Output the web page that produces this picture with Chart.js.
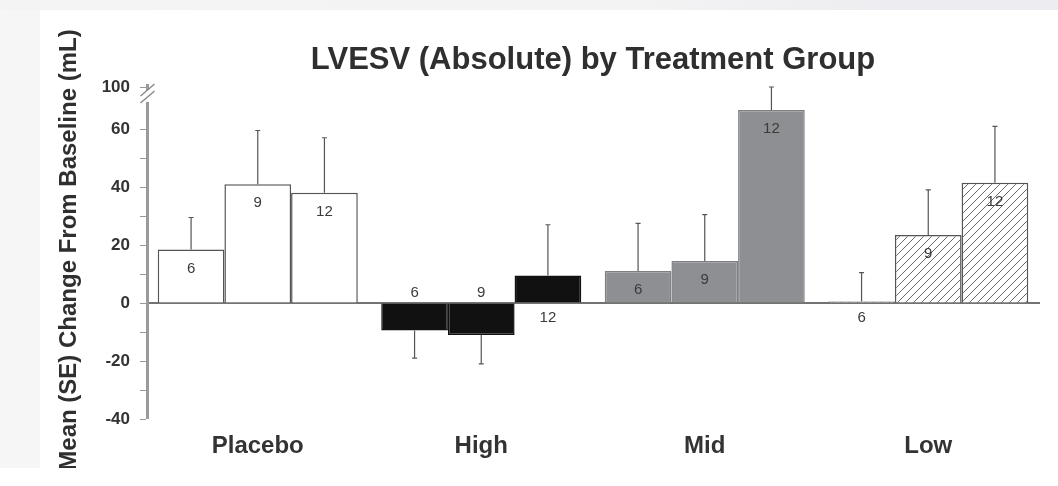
<!DOCTYPE html>
<html><head><meta charset="utf-8">
<script src="https://cdn.jsdelivr.net/npm/chart.js@4/dist/chart.umd.min.js"></script>
<style>html,body{margin:0;padding:0;background:#fff;overflow:hidden}#wrap{width:1058px;height:486px;position:relative}</style>
</head><body><div id="wrap"><canvas id="c" width="1058" height="486"></canvas></div>
<script>
// ---- data ----
const TITLE = 'LVESV (Absolute) by Treatment Group';
const Y_TITLE = 'Mean (SE) Change From Baseline (mL)';
const CATEGORIES = ['Placebo', 'High', 'Mid', 'Low'];
const TIMEPOINTS = ['6', '9', '12'];
const MEAN_6  = [18.5, -9.5, 11, 0.5];
const MEAN_9  = [41, -11, 14.5, 23.5];
const MEAN_12 = [38, 9.5, 78, 41.5];
const SE_6  = [11, 9.5, 16.5, 10];
const SE_9  = [18.5, 10, 16, 15.5];
const SE_12 = [19, 17.5, 22, 21];
const Y_TICKS = [-40, -30, -20, -10, 0, 10, 20, 30, 40, 50, 60, 100];
const Y_LABELED = [-40, -20, 0, 20, 40, 60, 100];
const BREAK_AT = 60;

// ---- style ----
const BREAK_RATIO = 0.3625;
const FONT = "'Liberation Sans', Arial, sans-serif";
const TEXT = '#333';

function hatch() {
  const s = 8, c = document.createElement('canvas');
  c.width = s; c.height = s;
  const g = c.getContext('2d');
  g.fillStyle = '#fff'; g.fillRect(0, 0, s, s);
  g.strokeStyle = '#6a6a6a'; g.lineWidth = 1;
  g.beginPath();
  g.moveTo(-1, s + 1); g.lineTo(s + 1, -1);
  g.moveTo(-1, 1); g.lineTo(1, -1);
  g.moveTo(s - 1, s + 1); g.lineTo(s + 1, s - 1);
  g.stroke();
  return document.getElementById('c').getContext('2d').createPattern(c, 'repeat');
}
const FILLS = ['#ffffff', '#111111', '#8e8f92', hatch()];
const BORDERS = ['#555555', '#111111', '#7e7f82', '#555555'];

// ---- broken linear scale ----
class BrokenLinearScale extends Chart.LinearScale {
  squash(v) { return v > BREAK_AT ? BREAK_AT + (v - BREAK_AT) * BREAK_RATIO : v; }
  unsquash(v) { return v > BREAK_AT ? BREAK_AT + (v - BREAK_AT) / BREAK_RATIO : v; }
  configure() {
    super.configure();
    this._endValue = this.squash(this.max);
    this._valueRange = this._endValue - this._startValue;
  }
  getPixelForValue(value) {
    if (value === null || value === undefined || isNaN(value)) return NaN;
    return this.getPixelForDecimal((this.squash(value) - this._startValue) / this._valueRange);
  }
  getValueForPixel(pixel) {
    return this.unsquash(this._startValue + this.getDecimalForPixel(pixel) * this._valueRange);
  }
}
BrokenLinearScale.id = 'brokenLinear';
BrokenLinearScale.defaults = Object.assign({}, Chart.LinearScale.defaults);
Chart.register(BrokenLinearScale);

const MEANS = [MEAN_6, MEAN_9, MEAN_12];
const SES = [SE_6, SE_9, SE_12];

const decor = {
  id: 'decor',
  beforeDraw(chart) {
    const ctx = chart.ctx;
    ctx.save();
    ctx.fillStyle = '#fff'; ctx.fillRect(0, 0, chart.width, chart.height);
    const gr = ctx.createLinearGradient(0, 0, chart.width, 0);
    gr.addColorStop(0, '#f4f4f4'); gr.addColorStop(0.6, '#f3f3f4'); gr.addColorStop(0.85, '#ededf1'); gr.addColorStop(1, '#ededf1');
    ctx.fillStyle = gr; ctx.fillRect(0, 0, chart.width, 10);
    ctx.fillStyle = '#f6f6f6'; ctx.fillRect(0, 10, 40, 458);
    ctx.restore();
  },
  beforeDatasetsDraw(chart) {
    const ctx = chart.ctx, a = chart.chartArea, y = chart.scales.y;
    const p0 = y.getPixelForValue(0);
    ctx.save();
    ctx.strokeStyle = '#444'; ctx.lineWidth = 1.5;
    ctx.beginPath(); ctx.moveTo(a.left, p0); ctx.lineTo(a.right, p0); ctx.stroke();
    ctx.restore();
  },
  afterDatasetsDraw(chart) {
    const ctx = chart.ctx, a = chart.chartArea, y = chart.scales.y;
    const p0 = y.getPixelForValue(0);
    ctx.save();
    // error bars
    ctx.strokeStyle = '#555'; ctx.lineWidth = 1.2;
    MEANS.forEach((vals, di) => {
      const meta = chart.getDatasetMeta(di);
      meta.data.forEach((bar, i) => {
        const v = vals[i], se = SES[di][i];
        const end = y.getPixelForValue(v >= 0 ? v + se : v - se);
        ctx.beginPath(); ctx.moveTo(bar.x, bar.y); ctx.lineTo(bar.x, end);
        ctx.moveTo(bar.x - 2.5, end); ctx.lineTo(bar.x + 2.5, end);
        ctx.stroke();
      });
    });
    // n labels
    ctx.fillStyle = '#3a3a3a';
    ctx.font = '15px ' + FONT;
    ctx.textAlign = 'center'; ctx.textBaseline = 'middle';
    MEANS.forEach((vals, di) => {
      const meta = chart.getDatasetMeta(di);
      meta.data.forEach((bar, i) => {
        const v = vals[i];
        let ty;
        if (v < 0) ty = p0 - 10;
        else if (v < 10) ty = p0 + 15;
        else ty = bar.y + 19;
        ctx.fillText(TIMEPOINTS[di], bar.x, ty);
      });
    });
    // y axis line with break
    const ax = a.left + 1.5;
    const pTop = y.getPixelForValue(100);
    const pBot = y.getPixelForValue(-40);
    ctx.strokeStyle = '#9a9a9a';
    ctx.lineWidth = 3;
    ctx.beginPath(); ctx.moveTo(ax, pTop + 15); ctx.lineTo(ax, pBot); ctx.stroke();
    ctx.beginPath(); ctx.moveTo(ax, pTop - 3); ctx.lineTo(ax, pTop + 3); ctx.stroke();
    ctx.lineWidth = 1.4; ctx.strokeStyle = '#888';
    ctx.beginPath();
    ctx.moveTo(ax - 7, pTop + 9); ctx.lineTo(ax + 7, pTop - 3);
    ctx.moveTo(ax - 7, pTop + 16); ctx.lineTo(ax + 7, pTop + 4);
    ctx.stroke();
    ctx.restore();
  },
  afterDraw(chart) {
    const ctx = chart.ctx, a = chart.chartArea;
    ctx.save();
    ctx.fillStyle = '#2f2f2f';
    ctx.font = 'bold 31px ' + FONT;
    ctx.textAlign = 'center'; ctx.textBaseline = 'alphabetic';
    ctx.fillText(TITLE, (a.left + a.right) / 2, 69);
    ctx.translate(69, 250); ctx.rotate(-Math.PI / 2);
    ctx.font = 'bold 24px ' + FONT;
    ctx.textBaseline = 'middle';
    ctx.fillText(Y_TITLE, 0, 0);
    ctx.restore();
    ctx.save();
    ctx.fillStyle = '#fff'; ctx.fillRect(40, 468, 100, 18);
    ctx.restore();
  }
};

new Chart(document.getElementById('c'), {
  type: 'bar',
  data: {
    labels: CATEGORIES,
    datasets: MEANS.map((vals, di) => ({
      label: TIMEPOINTS[di],
      data: vals,
      backgroundColor: FILLS,
      borderColor: BORDERS,
      borderWidth: 1.5,
      categoryPercentage: 0.895,
      barPercentage: 1.0
    }))
  },
  options: {
    responsive: false,
    animation: false,
    devicePixelRatio: 1,
    layout: { padding: { top: 87, right: 18, bottom: 0, left: 0 } },
    plugins: { legend: { display: false }, title: { display: false }, tooltip: { enabled: false } },
    scales: {
      x: {
        type: 'category',
        grid: { display: false, drawTicks: false },
        border: { display: false },
        ticks: { color: TEXT, font: { family: FONT, size: 24, weight: 'bold' }, padding: 13, maxRotation: 0, autoSkip: false },
        afterFit(s) { s.height = 67; }
      },
      y: {
        type: 'brokenLinear',
        min: -40, max: 100,
        afterBuildTicks(s) { s.ticks = Y_TICKS.map(v => ({ value: v })); },
        grid: { drawOnChartArea: false, drawTicks: true, tickLength: 6, color: '#999', lineWidth: 1 },
        border: { display: false },
        ticks: {
          color: TEXT, font: { family: FONT, size: 17, weight: 'bold' }, padding: 10,
          callback: (v) => Y_LABELED.includes(v) ? String(v) : ''
        },
        afterFit(s) { s.width = 146; }
      }
    }
  },
  plugins: [decor]
});
</script></body></html>
